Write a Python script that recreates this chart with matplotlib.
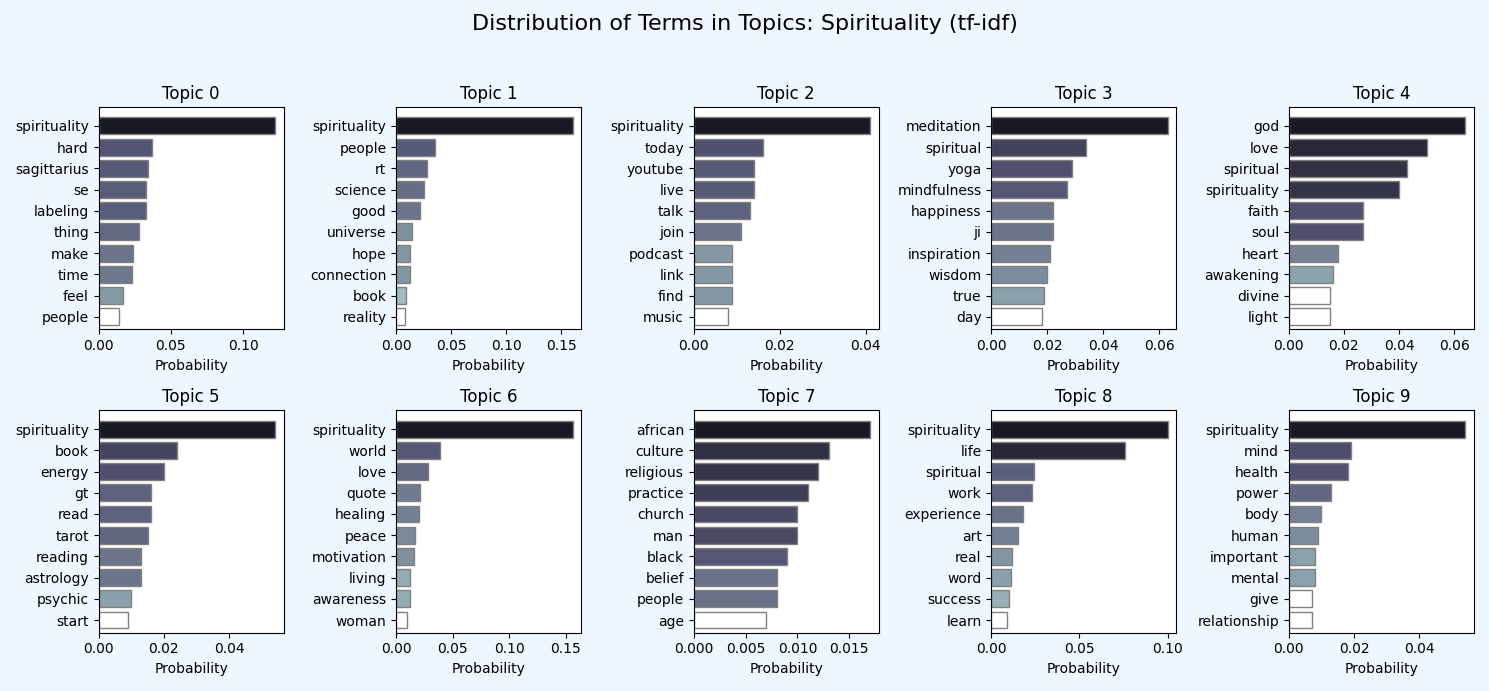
import matplotlib.pyplot as plt
from matplotlib import colors as mcolors

fig_title = "Distribution of Terms in Topics: Spirituality (tf-idf)"

topic_terms = [
    ["spirituality", "hard", "sagittarius", "se", "labeling", "thing", "make", "time", "feel", "people"],
    ["spirituality", "people", "rt", "science", "good", "universe", "hope", "connection", "book", "reality"],
    ["spirituality", "today", "youtube", "live", "talk", "join", "podcast", "link", "find", "music"],
    ["meditation", "spiritual", "yoga", "mindfulness", "happiness", "ji", "inspiration", "wisdom", "true", "day"],
    ["god", "love", "spiritual", "spirituality", "faith", "soul", "heart", "awakening", "divine", "light"],
    ["spirituality", "book", "energy", "gt", "read", "tarot", "reading", "astrology", "psychic", "start"],
    ["spirituality", "world", "love", "quote", "healing", "peace", "motivation", "living", "awareness", "woman"],
    ["african", "culture", "religious", "practice", "church", "man", "black", "belief", "people", "age"],
    ["spirituality", "life", "spiritual", "work", "experience", "art", "real", "word", "success", "learn"],
    ["spirituality", "mind", "health", "power", "body", "human", "important", "mental", "give", "relationship"],
]
topic_probs = [
    [0.122, 0.037, 0.034, 0.033, 0.033, 0.028, 0.024, 0.023, 0.017, 0.014],
    [0.160, 0.035, 0.028, 0.025, 0.022, 0.014, 0.013, 0.013, 0.009, 0.008],
    [0.041, 0.016, 0.014, 0.014, 0.013, 0.011, 0.009, 0.009, 0.009, 0.008],
    [0.063, 0.034, 0.029, 0.027, 0.022, 0.022, 0.021, 0.020, 0.019, 0.018],
    [0.064, 0.050, 0.043, 0.040, 0.027, 0.027, 0.018, 0.016, 0.015, 0.015],
    [0.054, 0.024, 0.020, 0.016, 0.016, 0.015, 0.013, 0.013, 0.010, 0.009],
    [0.156, 0.039, 0.028, 0.021, 0.020, 0.017, 0.016, 0.012, 0.012, 0.010],
    [0.017, 0.013, 0.012, 0.011, 0.010, 0.010, 0.009, 0.008, 0.008, 0.007],
    [0.100, 0.076, 0.024, 0.023, 0.018, 0.015, 0.012, 0.011, 0.010, 0.009],
    [0.054, 0.019, 0.018, 0.013, 0.010, 0.009, 0.008, 0.008, 0.007, 0.007],
]

bg = "#eef6ff"
cmap = plt.get_cmap("bone_r")

fig, axes = plt.subplots(2, 5, figsize=(14.89, 6.91), dpi=100, facecolor=bg)
axes = axes.flatten()
for idx, (terms, probs) in enumerate(zip(topic_terms, topic_probs)):
    ax = axes[idx]
    norm = mcolors.PowerNorm(gamma=0.22, vmin=min(probs), vmax=max(probs))
    cols = [cmap(0.88 * norm(p)) for p in probs]
    ax.barh(terms[::-1], probs[::-1], color=cols[::-1], edgecolor="gray", height=0.8)
    ax.set_title(f"Topic {idx}")
    ax.set_xlabel("Probability")
    ax.set_ylim(-0.6, 9.9)

fig.suptitle(fig_title, fontsize=16)
plt.tight_layout(rect=(0, 0, 1, 0.95))
plt.savefig("out.png", facecolor=bg)
